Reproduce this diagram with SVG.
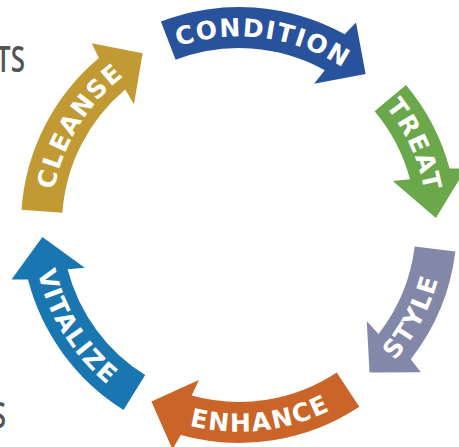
<svg xmlns="http://www.w3.org/2000/svg" width="459" height="447" viewBox="0 0 459 447">
<style>
.lbl{font-family:"DejaVu Sans","Liberation Sans",sans-serif;font-weight:bold;font-size:25px;fill:#ffffff;letter-spacing:1.6px}
.side{font-family:"Open Sans","Liberation Sans",sans-serif;font-weight:600;font-size:36px;fill:#535456}
</style>
<defs>
<path id="tp-condition" d="M 59.2 168.3 A 188.5 188.5 0 0 1 427.3 216.8"/>
<path id="tp-treat" d="M 191.8 42.5 A 188.5 188.5 0 0 1 345.8 380.3"/>
<path id="tp-cleanse" d="M 113.6 365.7 A 188.5 188.5 0 0 1 308.7 49.9"/>
<path id="tp-style" d="M 175.2 421.4 A 206.5 206.5 0 0 0 366.1 62.3"/>
<path id="tp-enhance" d="M 40.8 283 A 206.5 206.5 0 0 0 445.1 238.3"/>
<path id="tp-vitalize" d="M 100.8 71.5 A 206.5 206.5 0 0 0 316.4 416.5"/>
</defs>
<rect width="459" height="447" fill="#ffffff"/>
<g id="side-text">
<text class="side" x="25" y="72" text-anchor="end" transform="translate(25 0) scale(0.72 1) translate(-25 0)">TS</text>
<text class="side" x="6" y="428" text-anchor="end" transform="translate(6 0) scale(0.72 1) translate(-6 0)">S</text>
</g>
<g id="connectors"></g>
<g id="condition">
<path fill="#28529c" d="M 160.9 21.5 A 218 218 0 0 1 344.7 34.3 L 356 22.4 L 365.6 74.1 L 314.1 83.7 L 324.8 70.2 A 177 177 0 0 0 175.6 59.8 Z"/>
<text class="lbl"><textPath href="#tp-condition" startOffset="50%" text-anchor="middle">CONDITION</textPath></text>
</g>
<g id="treat">
<path fill="#6aa84b" d="M 406 84.9 A 218 218 0 0 1 449.6 168.6 L 466 168.4 L 435.9 218.1 L 392.8 180.9 L 410 179.2 A 177 177 0 0 0 374.6 111.2 Z"/>
<text class="lbl"><textPath href="#tp-treat" startOffset="50%" text-anchor="middle">TREAT</textPath></text>
</g>
<g id="style">
<path fill="#8387a8" d="M 455.4 251.6 A 218 218 0 0 1 410.8 359.2 L 420.8 372.3 L 369.5 372.6 L 366.8 321.3 L 378.5 334 A 177 177 0 0 0 414.7 246.6 Z"/>
<text class="lbl"><textPath href="#tp-style" startOffset="50%" text-anchor="middle">STYLE</textPath></text>
</g>
<g id="enhance">
<path fill="#cb6428" d="M 359.3 406.8 A 218 218 0 0 1 180.7 435.1 L 172.5 449.4 L 151.4 401.5 L 198.9 379.9 L 191.7 395.6 A 177 177 0 0 0 336.7 372.6 Z"/>
<text class="lbl"><textPath href="#tp-enhance" startOffset="50%" text-anchor="middle">ENHANCE</textPath></text>
</g>
<g id="vitalize">
<path fill="#1976b1" d="M 123.5 409.9 A 218 218 0 0 1 28 279.6 L 11.5 279.6 L 42.4 237 L 84.8 267.8 L 67.6 269.3 A 177 177 0 0 0 145.2 375.1 Z"/>
<text class="lbl"><textPath href="#tp-vitalize" startOffset="50%" text-anchor="middle">VITALIZE</textPath></text>
</g>
<g id="cleanse">
<path fill="#c19a33" d="M 21.5 209.8 A 218 218 0 0 1 98.9 58 L 91.7 43.2 L 142.6 53.2 L 134 104.2 L 125.2 89.4 A 177 177 0 0 0 62.4 212.7 Z"/>
<text class="lbl"><textPath href="#tp-cleanse" startOffset="50%" text-anchor="middle">CLEANSE</textPath></text>
</g>
</svg>
